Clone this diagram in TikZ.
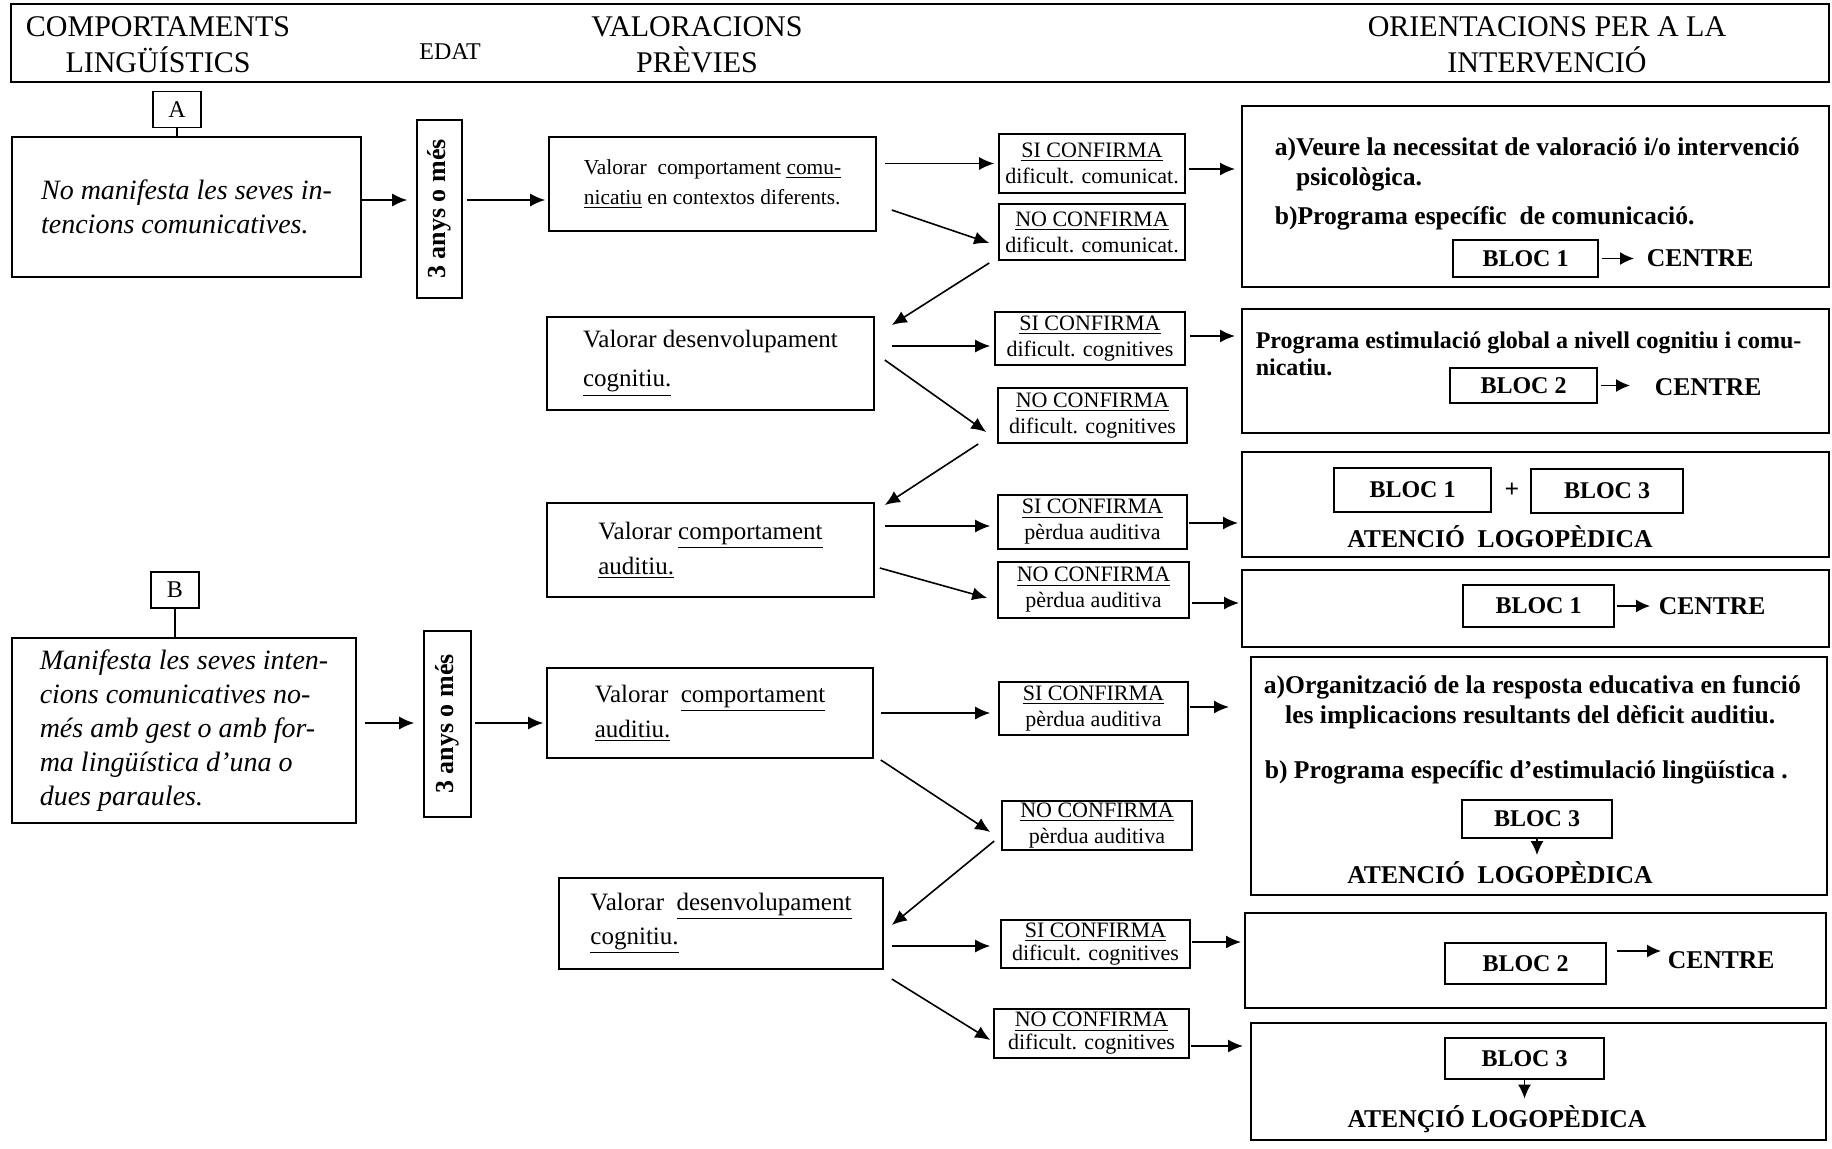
\documentclass[tikz,border=0pt]{standalone}
\usepackage{fontspec}
\setmainfont{Liberation Serif}
\usetikzlibrary{arrows.meta,calc}

\begin{document}
\begin{tikzpicture}[x=0.5pt, y=-0.5pt, line width=0.8pt,
  >={Latex[length=7.5pt,width=6.5pt]},
  capc/.style={font=\fontsize{15}{18}\selectfont, align=center},
  etiq/.style={draw, inner sep=0pt, minimum width=24pt, minimum height=18pt, font=\fontsize{12}{14}\selectfont},
  cas/.style={draw, inner sep=0pt, align=left, font=\fontsize{14}{17}\selectfont\itshape},
  edat/.style={draw, inner sep=0pt, rotate=90, font=\fontsize{13}{15}\selectfont\bfseries},
  valora/.style={draw, inner sep=0pt, align=left, font=\fontsize{12.5}{17.5}\selectfont},
  conf/.style={draw, inner sep=0pt, align=center, font=\fontsize{11}{13}\selectfont},
  orient/.style={draw, line width=1pt, inner sep=0pt},
  bloc/.style={draw, inner sep=0pt, font=\fontsize{12}{14}\selectfont\bfseries},
  negr/.style={inner sep=0pt, align=left, font=\fontsize{12.8}{15}\selectfont\bfseries},
  fl/.style={->, line width=0.8pt},
  flp/.style={-{Latex[length=7pt,width=6.5pt]}, line width=0.8pt}]

  \useasboundingbox (0,0) rectangle (1832,1148);

  % Capçalera
  \draw (11,4) rectangle (1829,82);
  \node[capc] (hcomp) at (158,45) {COMPORTAMENTS\\LINGÜÍSTICS};
  \node[font=\fontsize{12}{14}\selectfont] (hedat) at (450,52) {EDAT};
  \node[capc] (hval) at (697,45) {VALORACIONS\\PRÈVIES};
  \node[capc] (hori) at (1547,45) {ORIENTACIONS PER A LA\\INTERVENCIÓ};

  % Cas A
  \node[etiq] (ta) at (177,109.5) {A};
  \node[cas, minimum width=174.5pt, minimum height=70pt] (ca) at (186.5,207)
    {No manifesta les seves in-\\tencions comunicatives.};
  \draw (ta.south) -- (ta.south |- ca.north);
  \node[edat, minimum width=89pt, minimum height=22.5pt] (e1) at (439.5,209) {3 anys o més};

  % Valoracions del cas A
  \node[valora, font=\fontsize{10.7}{15}\selectfont, minimum width=163.5pt, minimum height=47pt] (v1) at (712.5,184)
    {Valorar\ \ comportament \underline{comu-}\\\underline{nicatiu} en contextos diferents.};
  \node[valora, font=\fontsize{12.5}{19.5}\selectfont, minimum width=163.5pt, minimum height=46.5pt] (v2) at (710.5,363.5)
    {Valorar desenvolupament\\\underline{cognitiu.}};
  \node[valora, minimum width=163.5pt, minimum height=47pt] (v3) at (710.5,550)
    {Valorar \underline{comportament}\\\underline{auditiu.}};

  \draw[fl, shorten >=4.5pt] ([yshift=3.5pt]ca.east) -- ([yshift=3.5pt]ca.east -| e1.north);
  \draw[fl, shorten <=2pt, shorten >=1.5pt] ([yshift=4.5pt]e1.south) -- ([yshift=4.5pt]e1.south -| v1.west);

  % Confirmacions del cas A
  \node[conf, minimum width=93pt, minimum height=29.5pt] (s1) at (1092,163.5) {\underline{SI CONFIRMA}\\dificult. comunicat.};
  \node[conf, minimum width=93pt, minimum height=28pt] (n1) at (1092,232) {\underline{NO CONFIRMA}\\dificult. comunicat.};
  \node[conf, minimum width=95pt, minimum height=26.5pt] (s2) at (1090,338.5) {\underline{SI CONFIRMA}\\dificult. cognitives};
  \node[conf, minimum width=94.5pt, minimum height=27.5pt] (n2) at (1092.5,415.5) {\underline{NO CONFIRMA}\\dificult. cognitives};
  \node[conf, minimum width=94.5pt, minimum height=27pt] (s3) at (1092.5,522) {\underline{SI CONFIRMA}\\pèrdua auditiva};
  \node[conf, minimum width=95.5pt, minimum height=28pt] (n3) at (1093.5,590) {\underline{NO CONFIRMA}\\pèrdua auditiva};

  \draw[fl, shorten <=4pt, shorten >=2pt] (v1.east |- s1.west) -- (s1.west);
  \draw[fl] ($(v1.east)+(15,26)$) -- ($(n1.west)+(-9,11)$);
  \draw[fl] ($(n1.west)+(-9,31)$) -- ($(v2.east)+(17,-38.5)$);
  \draw[fl] ($(v2.east)+(17,-17.5)$) -- ($(s2.west)+(-4,7.5)$);
  \draw[fl] ($(v2.east)+(10,-3.5)$) -- ($(n2.west)+(-11,16.5)$);
  \draw[fl] ($(n2.west)+(-19,28.5)$) -- ($(v3.east)+(10,-45)$);
  \draw[fl] ($(v3.east)+(10,-24)$) -- ($(s3.west)+(-7,4)$);
  \draw[fl] ($(v3.east)+(5,18)$) -- ($(n3.west)+(-10,8)$);

  % Orientacions del cas A
  \node[orient, minimum width=293.5pt, minimum height=90.5pt] (o1) at (1535.5,196.5) {};
  \node[negr, anchor=west] (o1a) at (1274,164)
    {a)Veure la necessitat de valoració i/o intervenció\\\phantom{a)}psicològica.};
  \node[negr, anchor=west] (o1b) at (1274,218) {b)Programa específic\ \ de comunicació.};
  \node[bloc, minimum width=72.5pt, minimum height=18.5pt] (o1c) at (1525.5,258.5) {BLOC 1};
  \node[negr, anchor=west] (o1d) at (1646,258) {CENTRE};
  \draw[flp, shorten <=1.5pt, shorten >=6pt] (o1c.east) -- (o1c.east -| o1d.west);

  \node[orient, minimum width=293.5pt, minimum height=62pt] (o2) at (1535.5,371) {};
  \node[negr, font=\fontsize{12}{13.5}\selectfont\bfseries, anchor=west] (o2a) at (1255,353.5)
    {Programa estimulació global a nivell cognitiu i comu-\\nicatiu.};
  \node[bloc, minimum width=73.5pt, minimum height=17.5pt] (o2b) at (1523.5,385.5) {BLOC 2};
  \node[negr, anchor=west] (o2c) at (1654,387) {CENTRE};
  \draw[flp, shorten <=1.5pt, shorten >=12pt] (o2b.east) -- (o2b.east -| o2c.west);

  \node[orient, minimum width=293.5pt, minimum height=52.5pt] (o3) at (1535.5,504.5) {};
  \node[bloc, minimum width=78.5pt, minimum height=22pt] (o3a) at (1412.5,490) {BLOC 1};
  \node[negr] (o3p) at (1512,490) {+};
  \node[bloc, minimum width=76pt, minimum height=22pt] (o3b) at (1607,491) {BLOC 3};
  \node[negr] (o3c) at (1500,537) {ATENCIÓ\ \ LOGOPÈDICA};

  \node[orient, minimum width=293.5pt, minimum height=38.5pt] (o4) at (1535.5,608.5) {};
  \node[bloc, minimum width=75.5pt, minimum height=21pt] (o4a) at (1538.5,606) {BLOC 1};
  \node[negr, anchor=west] (o4b) at (1658,606) {CENTRE};
  \draw[flp, shorten <=1pt, shorten >=4pt] (o4a.east) -- (o4a.east -| o4b.west);

  \draw[fl] ($(s1.east)+(3,5.5)$) -- ($(s1.east -| o1.west)+(-6,5.5)$);
  \draw[fl] ($(s2.east)+(4,-2.5)$) -- ($(s2.east -| o2.west)+(-6,-2.5)$);
  \draw[fl] ($(s3.east)+(1,1)$) -- ($(s3.east -| o3.west)+(-3,1)$);
  \draw[fl] ($(n3.east)+(2,13)$) -- ($(n3.east -| o4.west)+(-2,13)$);

  % Cas B
  \node[etiq] (tb) at (175,590) {B};
  \node[cas, minimum width=172pt, minimum height=92.5pt] (cb) at (184,730.5)
    {Manifesta les seves inten-\\cions comunicatives no-\\més amb gest o amb for-\\ma lingüística d'una o\\dues paraules.};
  \draw (tb.south) -- (tb.south |- cb.north);
  \node[edat, minimum width=93pt, minimum height=23.5pt] (e2) at (447.5,724) {3 anys o més};

  % Valoracions del cas B
  \node[valora, minimum width=163pt, minimum height=45pt] (v4) at (710,713)
    {Valorar\ \ \underline{comportament}\\\underline{auditiu.}};
  \node[valora, font=\fontsize{12.5}{17}\selectfont, minimum width=162pt, minimum height=45.5pt] (v5) at (721,923.5)
    {Valorar\ \ \underline{desenvolupament}\\\underline{cognitiu.}};

  \draw[fl, shorten <=4pt, shorten >=4.5pt] ([yshift=3.75pt]cb.east) -- ([yshift=3.75pt]cb.east -| e2.north);
  \draw[fl, shorten <=1.5pt, shorten >=1.5pt] ([yshift=0.5pt]e2.south) -- ([yshift=0.5pt]e2.south -| v4.west);

  % Confirmacions del cas B
  \node[conf, minimum width=94.5pt, minimum height=26.5pt] (s4) at (1093.5,708.5) {\underline{SI CONFIRMA}\\pèrdua auditiva};
  \node[conf, minimum width=95pt, minimum height=24.5pt] (n4) at (1097,825.5) {\underline{NO CONFIRMA}\\pèrdua auditiva};
  \node[conf, font=\fontsize{11}{11.5}\selectfont, minimum width=94.5pt, minimum height=24pt] (s5) at (1095.5,944) {\underline{SI CONFIRMA}\\dificult. cognitives};
  \node[conf, font=\fontsize{11}{11.5}\selectfont, minimum width=97.5pt, minimum height=24.5pt] (n5) at (1091.5,1033.5) {\underline{NO CONFIRMA}\\dificult. cognitives};

  \draw[fl] ($(v4.east)+(7,0)$) -- ($(s4.west)+(-8,4.5)$);
  \draw[fl] ($(v4.east)+(7,47)$) -- ($(n4.west)+(-11,6.5)$);
  \draw[fl] ($(n4.west)+(-7,15.5)$) -- ($(v5.east)+(8,1.5)$);
  \draw[fl] ($(v5.east)+(8,22.5)$) -- ($(s5.west)+(-10,2)$);
  \draw[fl] ($(v5.east)+(8,55.5)$) -- ($(n5.west)+(-3,6.5)$);

  % Orientacions del cas B
  \node[orient, minimum width=288pt, minimum height=119pt] (o5) at (1539,776) {};
  \node[negr, anchor=west] (o5a) at (1263,702)
    {a)Organització de la resposta educativa en funció\\\phantom{a)}les implicacions resultants del dèficit auditiu.};
  \node[negr, anchor=west] (o5b) at (1264,772) {b) Programa específic d'estimulació lingüística .};
  \node[bloc, minimum width=75pt, minimum height=19pt] (o5c) at (1537,819) {BLOC 3};
  \node[negr] (o5d) at (1500,873) {ATENCIÓ\ \ LOGOPÈDICA};
  \draw[flp] (o5c.south) -- ([yshift=3pt]o5c.south |- o5d.north);

  \node[orient, minimum width=290.5pt, minimum height=47.5pt] (o6) at (1535.5,960.5) {};
  \node[bloc, minimum width=80.5pt, minimum height=20.5pt] (o6a) at (1525.5,963.5) {BLOC 2};
  \node[negr, anchor=west] (o6b) at (1667,960) {CENTRE};
  \draw[flp] ($(o6a.east)+(10,-12.5)$) -- ($(o6b.west)+(-6,-9)$);

  \node[orient, minimum width=287.5pt, minimum height=58.5pt] (o7) at (1538.5,1081.5) {};
  \node[bloc, minimum width=79.5pt, minimum height=20.5pt] (o7a) at (1524.5,1058.5) {BLOC 3};
  \node[negr] (o7b) at (1497,1119) {ATENÇIÓ LOGOPÈDICA};
  \draw[flp] (o7a.south) -- ([yshift=3pt]o7a.south |- o7b.north);

  \draw[fl] ($(s4.east)+(1,-1.5)$) -- ($(s4.east -| o5.west)+(-21,-1.5)$);
  \draw[fl] ($(s5.east)+(1,-2)$) -- ($(s5.east -| o6.west)+(-3,-2)$);
  \draw[fl] ($(n5.east)+(1,12.5)$) -- ($(n5.east -| o7.west)+(-7,12.5)$);

\end{tikzpicture}
\end{document}
